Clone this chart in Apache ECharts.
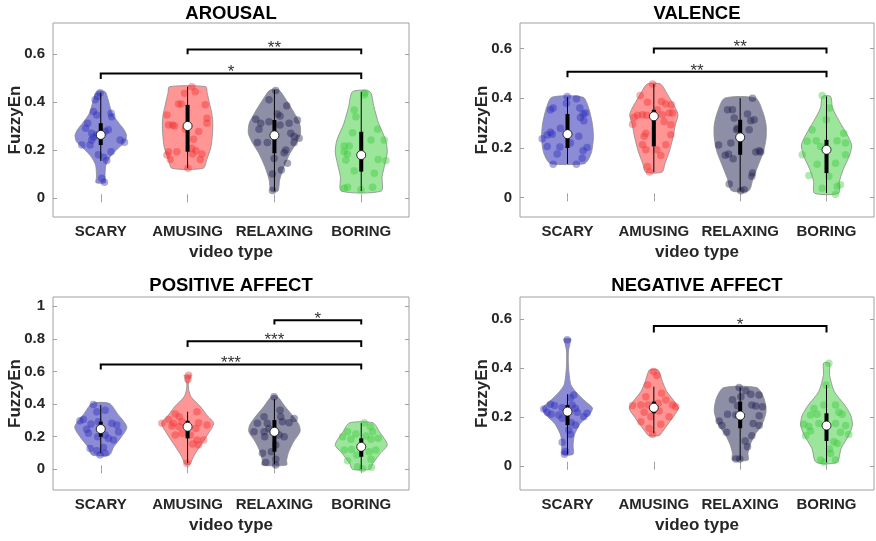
<!DOCTYPE html>
<html><head><meta charset="utf-8">
<script src="https://cdn.jsdelivr.net/npm/echarts@6/dist/echarts.min.js"></script>
<style>html,body{margin:0;padding:0;background:#fff}#c{width:876px;height:541px}</style>
</head><body><div id="c"></div>
<script>
const categories = ['SCARY','AMUSING','RELAXING','BORING'];
const panelTitles = ['AROUSAL','VALENCE','POSITIVE AFFECT','NEGATIVE AFFECT'];
const yTicks = [[0,0.2,0.4,0.6],[0,0.2,0.4,0.6],[0,0.2,0.4,0.6,0.8,1],[0,0.2,0.4,0.6]];
const yRanges = [[-0.078,0.73],[-0.079,0.703],[-0.127,1.057],[-0.099,0.689]];
const xRange = [0.45, 4.55];
const xTicks = [1,2,3,4];

// points: [horizontal jitter (category units), FuzzyEn]
const arousalPoints = [
 [[-0.008,0.44],[-0.035,0.424],[-0.065,0.41],[-0.085,0.361],[-0.046,0.347],[0.119,0.354],[0.127,0.34],[-0.15,0.312],[-0.173,0.292],[-0.104,0.271],[-0.046,0.264],[0.05,0.278],[0.088,0.285],[-0.104,0.243],[-0.085,0.254],[-0.219,0.222],[-0.123,0.222],[0.223,0.243],[0.273,0.233],[0.119,0.194],[0.031,0.171],[-0.027,0.181],[0.069,0.157],[0.012,0.083],[0.042,0.067]],
 [[0.05,0.465],[0.088,0.444],[-0.035,0.437],[-0.104,0.393],[-0.073,0.393],[0.204,0.389],[-0.238,0.347],[0.223,0.333],[-0.219,0.305],[-0.173,0.305],[-0.15,0.301],[0.223,0.312],[-0.027,0.287],[0.127,0.278],[0.069,0.246],[-0.219,0.194],[-0.123,0.194],[-0.238,0.18],[-0.2,0.162],[0.05,0.208],[0.058,0.184],[0.096,0.198],[0.165,0.184],[0.146,0.162],[0.004,0.125]],
 [[0.015,0.449],[-0.062,0.41],[0.142,0.385],[0.035,0.351],[0.065,0.343],[-0.215,0.329],[-0.158,0.312],[-0.062,0.319],[0.169,0.312],[0.265,0.326],[-0.177,0.287],[0.065,0.305],[0.188,0.271],[0.227,0.257],[0.285,0.25],[0.227,0.232],[-0.196,0.232],[-0.081,0.232],[0.131,0.201],[0.112,0.19],[-0.004,0.166],[0.15,0.146],[0.081,0.118],[-0.023,0.101],[-0.023,0.032]],
 [[0.042,0.44],[0.035,0.43],[-0.081,0.368],[-0.062,0.34],[-0.1,0.273],[0.188,0.287],[0.112,0.243],[0.265,0.243],[-0.196,0.218],[-0.138,0.218],[-0.196,0.194],[-0.158,0.184],[-0.177,0.159],[0.196,0.162],[0.285,0.157],[-0.081,0.115],[0.15,0.104],[-0.158,0.046],[-0.004,0.035],[0.131,0.046],[-0.196,0.042]]
];
const valencePoints = [
 [[-0.004,0.407],[0.104,0.398],[-0.012,0.38],[-0.197,0.353],[-0.166,0.36],[0.143,0.36],[0.181,0.336],[0.208,0.34],[0.15,0.322],[0.189,0.309],[-0.081,0.279],[-0.197,0.263],[-0.235,0.252],[-0.177,0.255],[-0.293,0.236],[0.131,0.246],[0.035,0.219],[-0.235,0.205],[-0.089,0.203],[0.227,0.201],[0.181,0.188],[-0.119,0.175],[0.17,0.158],[-0.166,0.134],[0.104,0.134]],
 [[-0.015,0.457],[-0.158,0.411],[-0.073,0.384],[0.089,0.387],[0.139,0.376],[0.204,0.373],[0.042,0.353],[-0.227,0.323],[-0.189,0.331],[-0.131,0.333],[-0.085,0.331],[0.177,0.34],[0.216,0.34],[0.1,0.333],[-0.247,0.295],[0.197,0.293],[0.12,0.306],[-0.092,0.259],[-0.112,0.246],[0.197,0.253],[-0.131,0.212],[0.139,0.212],[-0.092,0.192],[0.081,0.169],[0.035,0.192],[-0.073,0.125],[-0.05,0.102]],
 [[0.143,0.4],[-0.146,0.353],[-0.089,0.353],[-0.069,0.32],[0.085,0.336],[0.123,0.309],[0.162,0.313],[-0.031,0.279],[-0.042,0.273],[0.104,0.273],[-0.108,0.219],[-0.25,0.211],[-0.173,0.17],[-0.135,0.175],[-0.081,0.156],[0.181,0.183],[0.22,0.188],[0.239,0.183],[0.143,0.098],[0.135,0.085],[-0.127,0.054],[0.008,0.027],[0.046,0.031]],
 [[-0.05,0.411],[0.035,0.36],[-0.004,0.313],[-0.166,0.273],[0.2,0.259],[-0.119,0.228],[-0.224,0.226],[-0.069,0.205],[0.123,0.228],[0.22,0.219],[-0.281,0.172],[0.22,0.172],[-0.108,0.134],[0.104,0.138],[-0.204,0.088],[0.027,0.085],[0.123,0.044],[0.162,0.051],[0.104,0.013],[-0.05,0.037]]
];
const positivePoints = [
 [[-0.085,0.398],[0.05,0.363],[-0.046,0.353],[-0.2,0.306],[-0.027,0.292],[-0.112,0.278],[0.127,0.282],[0.185,0.271],[-0.162,0.245],[-0.142,0.221],[0.204,0.231],[0.05,0.21],[0.088,0.19],[0.146,0.18],[-0.035,0.2],[-0.123,0.128],[-0.046,0.114],[0.031,0.134],[-0.008,0.088],[0.05,0.098],[-0.24,0.298]],
 [[0.012,0.577],[0.004,0.551],[0.108,0.353],[-0.142,0.339],[-0.096,0.322],[-0.219,0.306],[-0.296,0.282],[-0.162,0.282],[-0.181,0.265],[-0.096,0.261],[0.127,0.286],[0.096,0.251],[0.223,0.271],[-0.142,0.21],[-0.065,0.22],[0.031,0.21],[0.108,0.18],[0.185,0.18],[0.058,0.155],[0.127,0.149],[-0.008,0.037],[-0.065,0.292]],
 [[-0.004,0.445],[0.065,0.363],[-0.119,0.322],[0.073,0.322],[0.227,0.312],[0.092,0.292],[0.169,0.286],[-0.196,0.282],[-0.081,0.282],[-0.235,0.23],[-0.119,0.23],[-0.062,0.251],[-0.112,0.2],[0.054,0.21],[0.112,0.2],[0.015,0.149],[-0.035,0.108],[-0.138,0.098],[0.015,0.061],[-0.1,0.041],[0.015,0.026]],
 [[0.035,0.286],[0.104,0.261],[-0.158,0.23],[-0.062,0.216],[0.131,0.23],[-0.215,0.2],[-0.119,0.184],[0.054,0.204],[0.112,0.184],[0.196,0.19],[-0.196,0.118],[-0.112,0.122],[0.169,0.118],[0.092,0.108],[-0.05,0.088],[0.112,0.061],[-0.158,0.053],[-0.042,0.016],[0.119,0.012],[0.015,0.004]]
];
const negativePoints = [
 [[-0.004,0.514],[0.073,0.289],[0.035,0.278],[-0.197,0.251],[-0.15,0.246],[-0.062,0.237],[0.054,0.248],[0.092,0.235],[-0.274,0.232],[-0.235,0.218],[-0.189,0.21],[-0.1,0.207],[0.112,0.218],[0.227,0.214],[0.189,0.2],[-0.062,0.194],[0.042,0.177],[0.092,0.166],[0.015,0.146],[0.035,0.128],[-0.062,0.096],[-0.023,0.058],[-0.035,0.047]],
 [[-0.004,0.385],[0.035,0.368],[-0.073,0.33],[0.089,0.296],[-0.092,0.282],[0.139,0.268],[-0.15,0.248],[-0.066,0.248],[0.05,0.255],[0.216,0.248],[-0.247,0.246],[0.254,0.241],[0.062,0.224],[-0.112,0.218],[0.177,0.2],[-0.15,0.18],[0.081,0.169],[-0.035,0.2],[-0.054,0.153],[-0.015,0.128]],
 [[-0.012,0.319],[0.066,0.306],[0.123,0.292],[0.22,0.289],[-0.089,0.269],[0.008,0.282],[-0.031,0.245],[0.135,0.248],[0.181,0.244],[0.258,0.241],[-0.146,0.21],[-0.05,0.207],[0.22,0.204],[-0.243,0.183],[0.15,0.173],[0.22,0.164],[-0.212,0.164],[-0.158,0.137],[0.135,0.123],[0.058,0.101],[0.085,0.078],[-0.05,0.028],[-0.004,0.028]],
 [[0.027,0.419],[-0.004,0.33],[-0.031,0.248],[-0.146,0.234],[-0.185,0.207],[-0.108,0.21],[0.143,0.218],[0.104,0.248],[0.181,0.21],[-0.262,0.169],[-0.204,0.16],[-0.089,0.173],[0.104,0.173],[0.22,0.164],[-0.185,0.142],[0.162,0.137],[0.258,0.128],[-0.243,0.123],[0.085,0.098],[0.123,0.091],[0.035,0.068],[0.046,0.05],[-0.069,0.023],[-0.031,0.014],[0.104,0.023]]
];

// violin outlines: [FuzzyEn, half-width in category units], bottom to top
const arousalViolins = [
 [[0.065,0.055],[0.085,0.05],[0.104,0.05],[0.139,0.06],[0.173,0.11],[0.208,0.2],[0.236,0.28],[0.264,0.296],[0.29,0.26],[0.3125,0.21],[0.354,0.13],[0.41,0.085],[0.444,0.05]],
 [[0.125,0.18],[0.16,0.22],[0.215,0.27],[0.29,0.29],[0.34,0.285],[0.4,0.25],[0.44,0.225],[0.465,0.21]],
 [[0.03,0.04],[0.076,0.06],[0.132,0.11],[0.1875,0.18],[0.229,0.25],[0.27,0.3],[0.3125,0.29],[0.354,0.23],[0.41,0.135],[0.451,0.05]],
 [[0.03,0.23],[0.09,0.24],[0.146,0.275],[0.194,0.3],[0.243,0.28],[0.312,0.2],[0.382,0.145],[0.444,0.1]]
];
const valenceViolins = [
 [[0.135,0.19],[0.152,0.24],[0.185,0.28],[0.239,0.3],[0.293,0.29],[0.36,0.245],[0.404,0.18]],
 [[0.102,0.095],[0.138,0.13],[0.185,0.18],[0.239,0.22],[0.293,0.25],[0.333,0.28],[0.36,0.25],[0.414,0.16],[0.457,0.077]],
 [[0.027,0.1],[0.078,0.15],[0.131,0.21],[0.185,0.27],[0.239,0.3],[0.293,0.3],[0.347,0.26],[0.4,0.18]],
 [[0.017,0.14],[0.065,0.15],[0.118,0.2],[0.172,0.27],[0.212,0.29],[0.252,0.24],[0.306,0.15],[0.36,0.07],[0.407,0.047]]
];
const positiveViolins = [
 [[0.088,0.1],[0.138,0.15],[0.2,0.24],[0.261,0.3],[0.343,0.19],[0.404,0.1]],
 [[0.032,0.03],[0.057,0.05],[0.098,0.09],[0.159,0.165],[0.22,0.24],[0.282,0.3],[0.333,0.22],[0.383,0.15],[0.445,0.04],[0.49,0.012],[0.53,0.01],[0.56,0.03],[0.577,0.04]],
 [[0.026,0.14],[0.057,0.14],[0.108,0.165],[0.169,0.22],[0.23,0.295],[0.271,0.285],[0.322,0.22],[0.383,0.125],[0.449,0.03]],
 [[0.0,0.1],[0.037,0.135],[0.098,0.22],[0.15,0.3],[0.23,0.21],[0.285,0.135]]
];
const negativeViolins = [
 [[0.047,0.065],[0.085,0.065],[0.126,0.08],[0.173,0.15],[0.207,0.25],[0.235,0.29],[0.262,0.21],[0.296,0.11],[0.33,0.04],[0.371,0.02],[0.42,0.01],[0.47,0.012],[0.5,0.03],[0.518,0.04]],
 [[0.123,0.06],[0.139,0.1],[0.173,0.17],[0.207,0.24],[0.235,0.285],[0.262,0.24],[0.303,0.15],[0.344,0.1],[0.391,0.05]],
 [[0.023,0.09],[0.051,0.09],[0.085,0.115],[0.126,0.17],[0.166,0.25],[0.221,0.3],[0.276,0.275],[0.319,0.19]],
 [[0.014,0.12],[0.071,0.17],[0.126,0.26],[0.166,0.3],[0.207,0.28],[0.248,0.21],[0.303,0.09],[0.371,0.035],[0.419,0.035]]
];

// box stats: [whisker low, q1, median, q3, whisker high]
const arousalBoxes = [[0.155,0.222,0.264,0.3125,0.44],[0.125,0.194,0.301,0.389,0.465],[0.03,0.1875,0.262,0.326,0.451],[0.03,0.111,0.18,0.277,0.444]];
const valenceBoxes = [[0.135,0.199,0.255,0.336,0.404],[0.102,0.206,0.327,0.353,0.457],[0.027,0.172,0.242,0.313,0.4],[0.017,0.098,0.192,0.232,0.407]];
const positiveBoxes = [[0.098,0.2,0.247,0.292,0.394],[0.037,0.19,0.261,0.298,0.353],[0.03,0.108,0.23,0.302,0.43],[0.0,0.077,0.138,0.19,0.283]];
const negativeBoxes = [[0.047,0.166,0.221,0.248,0.292],[0.133,0.214,0.237,0.262,0.323],[0.023,0.153,0.205,0.262,0.319],[0.014,0.101,0.164,0.214,0.33]];

// significance brackets: [from category, to category, bar level, end level, label]
const arousalSig = [[2,4,0.62,0.6,'**'],[1,4,0.52,0.497,'*']];
const valenceSig = [[2,4,0.6,0.58,'**'],[1,4,0.506,0.484,'**']];
const positiveSig = [[3,4,0.914,0.888,'*'],[2,4,0.786,0.751,'***'],[1,4,0.643,0.612,'***']];
const negativeSig = [[2,4,0.571,0.544,'*']];

const panels = [
  {pts: arousalPoints, vio: arousalViolins, box: arousalBoxes, sig: arousalSig},
  {pts: valencePoints, vio: valenceViolins, box: valenceBoxes, sig: valenceSig},
  {pts: positivePoints, vio: positiveViolins, box: positiveBoxes, sig: positiveSig},
  {pts: negativePoints, vio: negativeViolins, box: negativeBoxes, sig: negativeSig}
];

const fillColors = ['#8b8bd6','#ff9595','#8e8ea6','#9be69b'];
const dotColors = ['rgba(40,40,185,0.5)','rgba(240,45,45,0.5)','rgba(25,25,75,0.5)','rgba(55,200,55,0.5)'];
const FONT = '"Liberation Sans", Arial, Helvetica, sans-serif';
const gridPos = [
  {left:53, top:23, width:356, height:194},
  {left:520, top:23, width:354, height:194},
  {left:53, top:297, width:356, height:193},
  {left:520, top:297, width:354, height:193}
];
const AX = '#a0a0a0';

const grids = [], xAxes = [], yAxes = [], titles = [], series = [];
panels.forEach((P, p) => {
  const g = gridPos[p];
  grids.push(Object.assign({show:true, borderColor:AX, borderWidth:1, backgroundColor:'#fff'}, g));
  titles.push({text: panelTitles[p], left: g.left + g.width/2, textAlign:'center', top: (p<2?4:276.5), padding:0,
    textStyle:{fontFamily:FONT, fontWeight:'bold', fontSize:18.5, color:'#000'}});
  const common = {gridIndex:p, type:'value', splitLine:{show:false}, axisLine:{show:false}};
  xAxes.push(Object.assign({}, common, {position:'bottom', min:xRange[0], max:xRange[1],
    axisTick:{show:true, inside:true, length:4, customValues:xTicks, lineStyle:{color:AX}},
    axisLabel:{show:true, customValues:xTicks, formatter:v=>categories[Math.round(v)-1], margin:7,
      fontFamily:FONT, fontWeight:'bold', fontSize:15, color:'#262626'},
    name:'video type', nameLocation:'middle', nameGap:27, nameMoveOverlap:false,
    nameTextStyle:{fontFamily:FONT, fontWeight:'bold', fontSize:17, color:'#262626'}}));
  xAxes.push(Object.assign({}, common, {position:'top', min:xRange[0], max:xRange[1],
    axisTick:{show:true, inside:true, length:4, customValues:xTicks, lineStyle:{color:AX}},
    axisLabel:{show:false}}));
  yAxes.push(Object.assign({}, common, {position:'left', min:yRanges[p][0], max:yRanges[p][1],
    axisTick:{show:true, inside:true, length:4, customValues:yTicks[p], lineStyle:{color:AX}},
    axisLabel:{show:true, customValues:yTicks[p], formatter:v=>String(v), margin:8,
      fontFamily:FONT, fontWeight:'bold', fontSize:15, color:'#262626'},
    name:'FuzzyEn', nameLocation:'middle', nameGap:29, nameRotate:90, nameMoveOverlap:false,
    nameTextStyle:{fontFamily:FONT, fontWeight:'bold', fontSize:17, color:'#262626'}}));
  yAxes.push(Object.assign({}, common, {position:'right', min:yRanges[p][0], max:yRanges[p][1],
    axisTick:{show:true, inside:true, length:4, customValues:yTicks[p], lineStyle:{color:AX}},
    axisLabel:{show:false}}));
  const xi = 2*p, yi = 2*p;
  // violins
  series.push({type:'custom', xAxisIndex:xi, yAxisIndex:yi, z:1, silent:true,
    data: categories.map((c,i)=>[i+1, P.box[i][2]]),
    renderItem:(params, api)=>{
      const i = params.dataIndex, c = api.value(0), prof = P.vio[i];
      const right = prof.map(([v,w])=>api.coord([c+w, v]));
      const left = prof.slice().reverse().map(([v,w])=>api.coord([c-w, v]));
      return {type:'polygon', shape:{points:right.concat(left), smooth:0.25},
        style:{fill:fillColors[i], stroke:'#8a8a8a', lineWidth:0.8}};
    }});
  // points
  P.pts.forEach((arr, i) => {
    series.push({type:'scatter', xAxisIndex:xi, yAxisIndex:yi, z:2, silent:true,
      symbolSize:7.5, itemStyle:{color:dotColors[i]},
      data: arr.map(([dx,v])=>[i+1+dx, v])});
  });
  // box
  series.push({type:'custom', xAxisIndex:xi, yAxisIndex:yi, z:3, silent:true,
    data: categories.map((c,i)=>[i+1, P.box[i][2]]),
    renderItem:(params, api)=>{
      const i = params.dataIndex, c = api.value(0), b = P.box[i];
      const lo = api.coord([c,b[0]]), q1 = api.coord([c,b[1]]), md = api.coord([c,b[2]]), q3 = api.coord([c,b[3]]), hi = api.coord([c,b[4]]);
      return {type:'group', children:[
        {type:'line', shape:{x1:lo[0],y1:lo[1],x2:hi[0],y2:hi[1]}, style:{stroke:'#000', lineWidth:1}},
        {type:'line', shape:{x1:q1[0],y1:q1[1],x2:q3[0],y2:q3[1]}, style:{stroke:'#000', lineWidth:4}},
        {type:'circle', shape:{cx:md[0], cy:md[1], r:4.5}, style:{fill:'#fff', stroke:'#000', lineWidth:0.8}}
      ]};
    }});
  // significance brackets
  series.push({type:'custom', xAxisIndex:xi, yAxisIndex:yi, z:4, silent:true,
    data: P.sig.map(s=>[s[0], s[2]]),
    renderItem:(params, api)=>{
      const s = P.sig[params.dataIndex];
      const a1 = api.coord([s[0], s[3]]), a2 = api.coord([s[0], s[2]]), a3 = api.coord([s[1], s[2]]), a4 = api.coord([s[1], s[3]]);
      const mid = api.coord([(s[0]+s[1])/2, s[2]]);
      return {type:'group', children:[
        {type:'polyline', shape:{points:[a1,a2,a3,a4]}, style:{stroke:'#000', lineWidth:2, fill:null}},
        {type:'text', x:mid[0], y:mid[1]-1, style:{text:s[4], fontFamily:FONT, fontSize:17, fill:'#333',
          align:'center', verticalAlign:'middle'}}
      ]};
    }});
});

const chart = echarts.init(document.getElementById('c'), null, {renderer:'canvas'});
chart.setOption({animation:false, backgroundColor:'#fff', title:titles, grid:grids, xAxis:xAxes, yAxis:yAxes, series:series});
</script></body></html>
